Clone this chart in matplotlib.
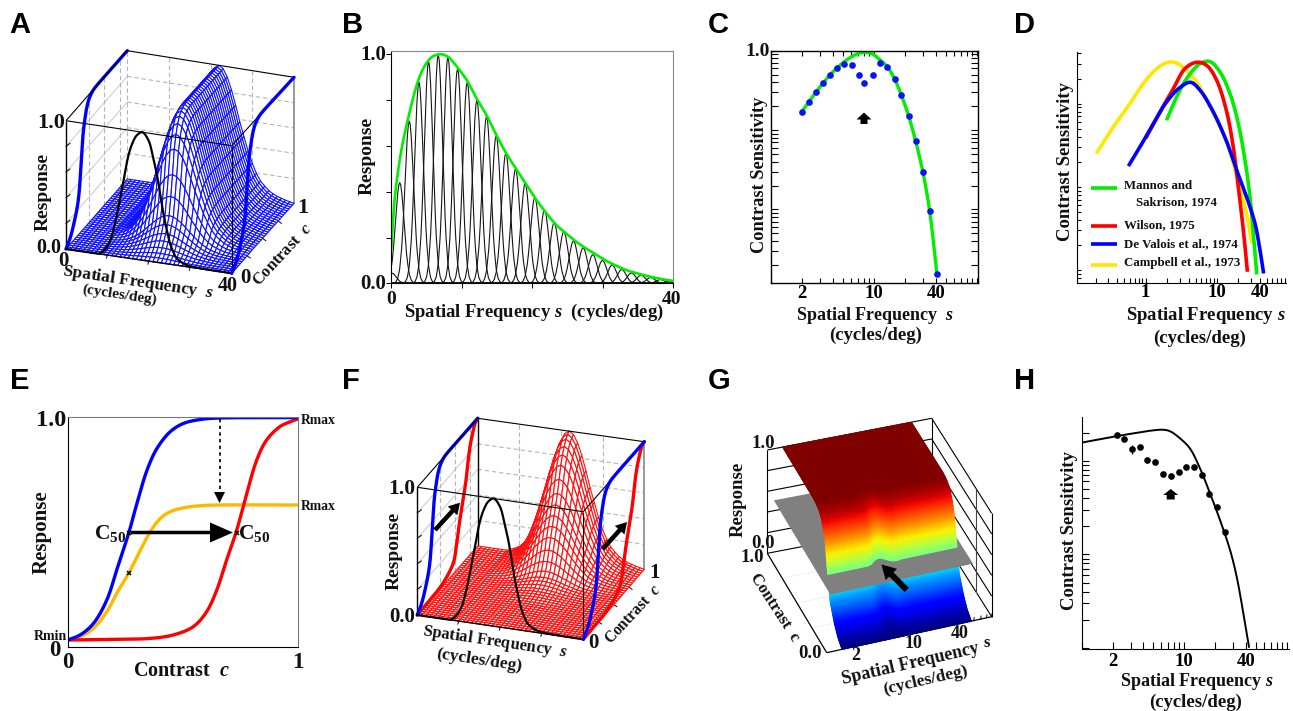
import numpy as np
import matplotlib
matplotlib.use('Agg')
import matplotlib.pyplot as plt
from matplotlib.collections import PolyCollection
from matplotlib.patches import FancyArrow, Polygon
from matplotlib.ticker import LogLocator, NullFormatter

plt.rcParams['font.family'] = ['Liberation Serif', 'DejaVu Serif']
plt.rcParams['font.weight'] = 'bold'
plt.rcParams['mathtext.fontset'] = 'custom'
plt.rcParams['mathtext.rm'] = 'Liberation Serif:bold'
plt.rcParams['mathtext.it'] = 'Liberation Serif:italic:bold'

W, H = 1293, 711
GREEN = '#00ee00'

# ---- A, F : tuning and contrast response
resp_c = [0, .03, .07, .13, .2, .25, .28, .31, .34, .37, .4, .44, .48, 1]
resp_blue = [0, .02, .05, .13, .27, .55, .75, .85, .92, .96, .98, .995, 1, 1]
resp_c_red = [0, .2, .35, .49, .6, .65, .7, .76, .8, .87, .93, .96, 1]
resp_red = [0, .005, .01, .035, .09, .2, .35, .5, .6, .84, .95, .985, 1]
tuning = [0, 0, 0, 0, 0, 0, 0, 0, .014, .026, .044, .072, .114, .172, .249, .345, .458,
          .581, .707, .823, .917, .978, 1, .978, .917, .823, .707, .581, .47, .36, .27,
          .195, .14, .105, .075, .055, .04, .03, .02, .012, .005]
front_s = [0, 6.6, 8.2, 9.5, 10.6, 11.8, 13, 14, 15, 16, 17.1, 18.4, 19.9, 21, 21.9, 22.7,
           23.5, 24.3, 25.1, 25.9, 26.7, 29.1, 33, 40]
front_r = [0, 0, .005, .045, .108, .25, .445, .62, .793, .90, .97, 1, .945, .82, .695, .54,
           .39, .27, .164, .10, .055, .013, .003, 0]

# ---- B
env_s = [0, .38, 1.2, 2.55, 3.92, 5.29, 6.66, 8.03, 9.31, 10.7, 12.1, 13.5, 14.9, 16.3, 17.8,
         19.2, 20.6, 22.0, 23.4, 24.8, 26.2, 27.6, 29.1, 30.5, 31.9, 33.3, 34.8, 36.7, 38.6, 40]
env_r = [.153, .335, .54, .742, .895, .975, 1.0, .99, .946, .888, .808, .735, .648, .568, .495,
         .429, .364, .306, .255, .218, .182, .153, .124, .098, .077, .058, .044, .029, .017, .010]
chan_s = [.1, 1.2, 2.55, 3.92, 5.29, 6.66, 8.03, 9.4, 10.77, 12.14, 13.51, 14.88, 16.25, 17.62,
          18.99, 20.36, 21.73, 23.1, 24.47, 25.84, 27.21, 28.58, 29.95, 31.32, 32.69, 34.06,
          35.43, 36.8, 38.17, 39.54]
chan_peak = [.044, .44, .71, .88, .97, 1.0, .99, .94, .88, .80, .73, .645, .57, .50, .435, .375,
             .32, .265, .225, .185, .155, .125, .10, .08, .06, .045, .035, .025, .016, .01]
lobe_off = [-1.6, -1.4, -1.2, -1.0, -.8, -.7, -.6, -.5, -.4, -.3, -.2, -.1, 0, .1, .2, .3, .4, .5,
            .6, .7, .8, 1.0, 1.2, 1.4, 1.6]
lobe_val = [.002, .008, .029, .085, .206, .298, .411, .539, .674, .801, .906, .976, 1, .976, .906,
            .801, .674, .539, .411, .298, .206, .085, .029, .008, .002]

# ---- C
c_pts_s = [1.97, 2.31, 2.72, 3.18, 3.75, 4.39, 5.14, 6.06, 7.09, 8.05, 9.7, 11.5, 13.5, 15.9,
           18.5, 21.8, 25.5, 30, 34.9, 41.1]
c_pts_v = [.1686, .2254, .301, .391, .498, .61, .679, .666, .498, .391, .498, .706, .628, .4395,
           .276, .15, .0726, .0296, .00962, .00153]
c_line_s = [1.97, 2.72, 3.75, 4.39, 5.14, 6.06, 7.09, 8.17, 9.7, 11.5, 13.5, 15.9, 18.5, 21.8,
            25.5, 30, 34.9, 41.1]
c_line_v = [.1686, .301, .498, .61, .7266, .84, .925, .953, .908, .763, .628, .4395, .276, .15,
            .0726, .0296, .00962, .00153]

# ---- D
yel_s = [.21, .352, .603, .927, 1.43, 1.97, 2.31, 2.87, 3.76, 5.19, 7.16, 9.89, 13.7, 16.9, 21, 26, 30.6]
yel_v = [.263, .525, 1, 1.74, 2.63, 3.1, 3.16, 3.02, 2.47, 1.82, 1.1, .631, .347, .19, .1, .0479, .0219]
red_s = [1.03, 1.59, 2.44, 3.56, 5.19, 7.16, 9.89, 13.7, 16.9, 19.9, 23.4, 26.6]
red_v = [.398, .794, 1.51, 2.63, 3.13, 2.88, 1.91, .794, .302, .1, .0302, .01]
grn_s = [2.01, 2.72, 3.76, 5.78, 7.98, 11, 15.2, 19.9, 24.7, 29, 32.3, 36]
grn_v = [.661, 1.2, 2, 3.02, 3.19, 2.4, 1.32, .575, .209, .0759, .0275, .0093]
blu_s = [.59, .833, 1.28, 1.97, 3.03, 4.27, 5.78, 8.88, 13.7, 18.9, 26, 34.1, 40.1, 44.7]
blu_v = [.185, .302, .575, 1.05, 1.56, 1.8, 1.45, .794, .347, .158, .0759, .0363, .0174, .00955]

# ---- E
e_blue_c = [0, .054, .112, .17, .213, .265, .301, .345, .388, .446, .504, .577, .649, .997]
e_blue_r = [.029, .051, .101, .203, .333, .493, .623, .768, .862, .935, .971, .988, .994, .996]
e_or_c = [0, .054, .112, .17, .213, .265, .316, .359, .403, .446, .504, .577, .649, .997]
e_or_r = [.029, .043, .08, .152, .232, .319, .42, .5, .558, .587, .604, .613, .616, .616]
e_red_c = [0, .213, .358, .459, .546, .604, .648, .691, .735, .771, .822, .865, .923, .967, 1.0]
e_red_r = [.029, .032, .036, .051, .087, .152, .246, .377, .507, .638, .812, .899, .957, .978, .99]

# ---- G
g_freq = [1.56, 1.8, 2, 2.5, 3, 3.5, 4, 4.5, 5, 5.5, 6, 6.5, 7, 7.5, 8, 8.5, 9, 10, 11, 12, 14, 16,
          20, 25, 30, 35, 40, 47]
g_shift = [0, 0, 0, 0, 0, 0, 0, 0, .01, .03, .045, .05, .042, .025, .01, 0, -.005, -.005, 0, 0, 0,
           0, 0, 0, 0, 0, 0, 0]

# ---- H
h_line_s = [1.0, 1.52, 2.2, 3.21, 4.66, 6.29, 7.3, 9.14, 11.4, 14.3, 17.9, 22.4, 28.1, 32.6, 37.9, 43]
h_line_v = [1.56, 1.70, 1.83, 1.96, 2.09, 2.14, 2.06, 1.73, 1.35, .828, .448, .233, .111, .0578, .0234, .0103]
h_pts_s = [2.19, 2.6, 3.13, 3.67, 4.39, 5.25, 6.24, 7.41, 8.87, 10.5, 12.6, 14.9, 17.6, 21.1, 24.9]
h_pts_v = [1.86, 1.69, 1.32, 1.41, 1.02, .976, .715, .686, .757, .863, .863, .697, .437, .323, .172]
h_pts_e = [.05, .04, .15, .04, .03, .03, .03, .03, .03, .03, .03, .03, .02, .015, .01]

fig = plt.figure(figsize=(W / 100, H / 100), dpi=100)


def px_axes(x0, y0, x1, y1):
    ax = fig.add_axes([x0 / W, 1 - y1 / H, (x1 - x0) / W, (y1 - y0) / H])
    ax.patch.set_alpha(0)
    return ax


ov = fig.add_axes([0, 0, 1, 1], zorder=10)
ov.set_xlim(0, W)
ov.set_ylim(H, 0)
ov.axis('off')


def smooth(x, y, logs=False, n=10):
    """round a polyline through the read points (hermite between them)"""
    x, y = np.asarray(x, float), np.asarray(y, float)
    if logs:
        x, y = np.log10(x), np.log10(y)
    t = np.r_[0, np.cumsum(np.hypot(np.diff(x), np.diff(y)) ** .5)]
    dx, dy = np.gradient(x, t), np.gradient(y, t)
    xs, ys = [], []
    for i in range(len(x) - 1):
        h = t[i + 1] - t[i]
        u = np.linspace(0, 1, n, endpoint=False)[:, None]
        h00, h10, h01, h11 = 2*u**3 - 3*u**2 + 1, u**3 - 2*u**2 + u, -2*u**3 + 3*u**2, u**3 - u**2
        xs.append((h00 * x[i] + h10 * h * dx[i] + h01 * x[i + 1] + h11 * h * dx[i + 1]).ravel())
        ys.append((h00 * y[i] + h10 * h * dy[i] + h01 * y[i + 1] + h11 * h * dy[i + 1]).ravel())
    xs, ys = np.r_[np.concatenate(xs), x[-1]], np.r_[np.concatenate(ys), y[-1]]
    if logs:
        return 10 ** xs, 10 ** ys
    return xs, ys


def txt(x, y, s, size=11, rot=0, ha='center', va='center', **kw):
    ov.text(x, y, s, fontsize=size, rotation=rot, ha=ha, va=va, rotation_mode='anchor',
            fontweight='bold', color='#111111', zorder=30, **kw)


def block_arrow(x0, y0, x1, y1, w=6, hw=15, hl=10, zorder=25):
    ov.add_patch(FancyArrow(x0, y0, x1 - x0, y1 - y0, width=w, head_width=hw, head_length=hl,
                            length_includes_head=True, color='k', lw=0, zorder=zorder))


def make_box(fl, fr, br, bl, tfl, tfr, tbr, tbl):
    base = np.array([fl, fr, br, bl], float)
    top = np.array([tfl, tfr, tbr, tbl], float)

    def proj(s, c, r):
        s, c, r = np.broadcast_arrays(np.asarray(s, float), np.asarray(c, float), np.asarray(r, float))
        w = np.stack([(1 - s) * (1 - c), s * (1 - c), s * c, (1 - s) * c], -1)
        pts = w @ base + (r[..., None]) * (w @ top - w @ base)
        return pts[..., 0], pts[..., 1]
    return proj


def seg(proj, a, b, **kw):
    x, y = proj([a[0], b[0]], [a[1], b[1]], [a[2], b[2]])
    ov.plot(x, y, solid_capstyle='butt', **kw)


def panel3d(proj, color, curves, c_resp, r_resp, back_left):
    """box with wire surface, as panels A and F"""
    levels = [.2, .4, .6, .8]
    grid = dict(color='#b5b5b5', lw=.8, ls=(0, (4, 2.5)), zorder=1)
    for lv in levels:
        seg(proj, (0, 1, lv), (1, 1, lv), **grid)
        seg(proj, (0, 0, lv), (0, 1, lv), color='#cfcfcf', lw=.8, zorder=1)
    for f in [.125, .375, .625]:
        seg(proj, (0, 1 - f, 0), (0, 1 - f, 1), **grid)
    for f in [.25, .5, .75]:
        seg(proj, (f, 1, 0), (f, 1, 1), **grid)
    seg(proj, (0, 0, 0), (0, 0, 1), color='k', lw=1.0, zorder=2)
    seg(proj, (1, 1, 0), (1, 1, 1), color='#888888', lw=1.2, zorder=1)
    if back_left:
        seg(proj, (0, 1, 0), (0, 1, 1), color='k', lw=1.0, zorder=1)
    else:
        seg(proj, (0, 1, 0), (0, 1, 1), **grid)
    for lv in levels:
        x, y = proj([0], [0], [lv])
        ov.plot([x[0], x[0] + 4], [y[0], y[0] - 3], color='k', lw=.7, zorder=2)

    s_grid = np.arange(41) / 40
    c_grid = np.linspace(0, 1, 37)
    surf = np.outer(tuning, np.interp(c_grid, c_resp, r_resp))
    X, Y = proj(s_grid[:, None], c_grid[None, :], surf)
    quads = []
    for i in range(40):
        for j in range(35, -1, -1):
            quads.append([(X[i, j], Y[i, j]), (X[i + 1, j], Y[i + 1, j]),
                          (X[i + 1, j + 1], Y[i + 1, j + 1]), (X[i, j + 1], Y[i, j + 1])])
    ov.add_collection(PolyCollection(quads, facecolors='white', edgecolors=color, linewidths=.8, zorder=4))

    for cc, rr, col in curves:
        x, y = proj(0 * np.asarray(cc), cc, rr)
        ov.plot(*smooth(x, y), color=col, lw=2.4, zorder=5, solid_capstyle='round')
        x, y = proj(0 * np.asarray(cc) + 1, cc, rr)
        ov.plot(*smooth(x, y), color=col, lw=2.4, zorder=8, solid_capstyle='round')
    x, y = proj(np.asarray(front_s) / 40, 0 * np.asarray(front_s), front_r)
    ov.plot(*smooth(x, y), color='k', lw=1.6, zorder=7)

    for a, b in [((0, 0, 1), (1, 0, 1)), ((1, 0, 1), (1, 1, 1)), ((1, 1, 1), (0, 1, 1)), ((0, 1, 1), (0, 0, 1)),
                 ((1, 0, 0), (1, 0, 1))]:
        seg(proj, a, b, color='k', lw=.8, zorder=6)
    seg(proj, (0, 0, 0), (1, 0, 0), color='k', lw=1.0, zorder=6)
    for f in [.25, .5, .75]:
        x, y = proj([f], [0], [0])
        ov.plot([x[0], x[0] - 1], [y[0], y[0] + 3], color='k', lw=.7, zorder=2)
    for f in [.25, .5, .75]:
        x, y = proj([1], [f], [0])
        ov.plot([x[0], x[0] + 3], [y[0], y[0] + 2], color='k', lw=.7, zorder=2)


# ---- A
proj_a = make_box((66, 249), (231.7, 273.3), (294, 204), (127.3, 179),
                  (66, 120.7), (231.7, 145.7), (294, 77.3), (127.3, 50.7))
panel3d(proj_a, '#1010ff', [(resp_c, resp_blue, '#0000ff')], resp_c, resp_blue, False)
txt(51, 123, '1.0', 16)
txt(49, 248, '0.0', 14.5)
txt(63, 261, '0', 15)
txt(228, 286, '40', 14.5)
txt(245, 278, '0', 15)
txt(303, 208, '1', 16)
txt(43, 192, 'Response', 14, rot=90)
txt(138, 282, 'Spatial Frequency  $s$', 12.5, rot=-8.5)
txt(120, 295, '(cycles/deg)', 11, rot=-8.5)
txt(283, 255, 'Contrast  $c$', 11.8, rot=47)

# ---- B
ax = px_axes(391.3, 51, 673.3, 283.3)
grid_s = np.linspace(0, 40, 1200)
for cs, pk in zip(chan_s, chan_peak):
    ax.plot(grid_s, pk * np.interp((grid_s - cs) / 1.37, lobe_off, lobe_val), color='#151515', lw=.8)
ax.plot(*smooth(env_s, env_r), color=GREEN, lw=1.9)
ax.set_xlim(0, 40)
ax.set_ylim(0, 1.015)
ax.set_xticks([0, 10, 20, 30, 40])
ax.set_xticklabels(['', '', '', '', ''])
ax.set_yticks([0, .2, .4, .6, .8, 1])
ax.set_yticklabels(['', '', '', '', '', ''])
ax.tick_params(length=3.5, width=.7, pad=2)
for k in ['top', 'right']:
    ax.spines[k].set_color('#888888')
txt(373, 55, '1.0', 15)
txt(373, 284, '0.0', 15)
txt(391, 300, '0', 14)
txt(672, 299, '40', 14)
txt(534, 312, 'Spatial Frequency $s$  (cycles/deg)', 13.4)
txt(367, 156, 'Response', 14, rot=90)


def log_axes(ax, xticks, xlabels, ylim, xlim, ylen, xlen, pad, both=False):
    ax.set_xscale('log')
    ax.set_yscale('log')
    ax.set_xlim(*xlim)
    ax.set_ylim(*ylim)
    ax.set_xticks(xticks)
    ax.set_xticklabels(xlabels, fontsize=13.5)
    ax.xaxis.set_minor_locator(LogLocator(base=10, subs=range(1, 10), numticks=20))
    ax.xaxis.set_minor_formatter(NullFormatter())
    ax.yaxis.set_major_locator(LogLocator(base=10, numticks=20))
    ax.yaxis.set_major_formatter(NullFormatter())
    ax.yaxis.set_minor_locator(LogLocator(base=10, subs=range(1, 10), numticks=20))
    ax.yaxis.set_minor_formatter(NullFormatter())
    ax.tick_params(axis='y', which='both', direction='in', length=ylen, width=.8, left=True, right=both)
    ax.tick_params(axis='x', which='both', direction='in', length=xlen, width=.8, bottom=True, top=both, pad=pad)
    if not both:
        ax.spines['top'].set_visible(False)
        ax.spines['right'].set_visible(False)


# ---- C
ax = px_axes(771.3, 50.7, 978.3, 283.3)
ax.plot(*smooth(c_line_s, c_line_v, logs=True), color=GREEN, lw=2.4)
ax.plot(c_pts_s, c_pts_v, 'o', color='#0a14f0', ms=4.8, mew=0)
log_axes(ax, [2, 10, 40], ['2', '10', '40'], (10 ** -2.93, 1), (1, 104), 5, 3.5, 1.5, both=True)
for k in ax.spines.values():
    k.set_linewidth(1)
txt(758, 52, '1.0', 14)
block_arrow(864, 124, 864, 112.5, w=7, hw=15, hl=7)
txt(875, 315, 'Spatial Frequency  $s$', 13)
txt(876, 335, '(cycles/deg)', 13.5)
txt(759, 175, 'Contrast Sensitivity', 13.2, rot=90)

# ---- D
ax = px_axes(1077.3, 51.7, 1285.7, 283.3)
ax.plot(*smooth(yel_s, yel_v, logs=True), color='#ffe800', lw=2.6)
ax.plot(*smooth(grn_s, grn_v, logs=True), color=GREEN, lw=2.6)
ax.plot(*smooth(red_s, red_v, logs=True), color='#ff0000', lw=2.6)
ax.plot(*smooth(blu_s, blu_v, logs=True), color='#0000ff', lw=2.6)
log_axes(ax, [1, 10, 40], ['1', '10', '40'], (10 ** -2.16, 4.2), (.11, 92), 3, 3.5, .5)
for col, yy in [(GREEN, 187.7), ('#ff0000', 225.7), ('#0000ff', 244.3), ('#ffe800', 265)]:
    ov.plot([1090.7, 1116.7], [yy, yy], color=col, lw=2.6, solid_capstyle='butt', zorder=20)
txt(1124, 186, 'Mannos and', 9.3, ha='left')
txt(1136.5, 202.5, 'Sakrison, 1974', 9.3, ha='left')
txt(1124, 225, 'Wilson, 1975', 9.3, ha='left')
txt(1124, 244, 'De Valois et al., 1974', 9.3, ha='left')
txt(1124, 263, 'Campbell et al., 1973', 9.3, ha='left')
txt(1206, 316, 'Spatial Frequency $s$', 13.5)
txt(1200, 338, '(cycles/deg)', 13.5)
txt(1065, 162, 'Contrast Sensitivity', 13.5, rot=90)

# ---- E
ax = px_axes(67.7, 416.7, 297.7, 646.7)
ax.plot(*smooth(e_or_c, e_or_r), color='#ffb800', lw=2.4)
ax.plot(*smooth(e_red_c, e_red_r), color='#ff0000', lw=2.4)
ax.plot(*smooth(e_blue_c, e_blue_r), color='#0000ff', lw=2.4)
ax.plot([.265, .735, .265], [.495, .495, .319], 'x', color='k', ms=3.5, mew=1.1)
ax.set_xlim(0, 1)
ax.set_ylim(0, 1)
ax.set_xticks([0, 1])
ax.set_yticks([0, 1])
ax.set_xticklabels([])
ax.set_yticklabels([])
ax.tick_params(length=0)
for k in ['top', 'right']:
    ax.spines[k].set_color('#777777')
txt(67.7, 663, '0', 16.5)
txt(298, 663, '1', 16.5)
txt(55, 650, '0', 16.5)
txt(51, 420, '1.0', 17.5)
txt(34, 636, 'Rmin', 10, ha='left')
txt(300.5, 421, 'Rmax', 9.8, ha='left')
txt(300.5, 507, 'Rmax', 9.8, ha='left')
txt(181, 671, 'Contrast  $c$', 14.5)
txt(42, 532, 'Response', 15, rot=90)
txt(110, 533, 'C$_{\\mathrm{50}}$', 15.5)
txt(254.5, 534, 'C$_{\\mathrm{50}}$', 15.5)
block_arrow(131, 532.5, 233, 532.5, w=3.5, hw=20, hl=23)
ov.plot([219.5, 219.5], [419, 495], color='k', lw=1.2, ls=(0, (2, 2)), zorder=25)
ov.add_patch(Polygon([(214, 492), (225, 492), (219.5, 503)], color='k', lw=0, zorder=25))

# ---- F
proj_f = make_box((417.3, 615), (583.3, 639.3), (644.3, 570), (477.7, 546),
                  (417.3, 487.3), (583.3, 511.7), (644.3, 441.7), (477.7, 418.3))
panel3d(proj_f, '#ff1010',
        [(resp_c_red, resp_red, '#ff0000'), (resp_c, resp_blue, '#0000ff')],
        resp_c_red, resp_red, True)
block_arrow(435, 530, 460, 502.7, w=4.5, hw=13, hl=11)
block_arrow(602.7, 549, 627, 522, w=4.5, hw=13, hl=11)
txt(402, 489, '1.0', 15.5)
txt(402, 617, '0.0', 15)
txt(593, 643, '0', 15)
txt(655, 573, '1', 15)
txt(394, 551, 'Response', 14, rot=90)
txt(495, 642, 'Spatial Frequency  $s$', 12, rot=-8.5)
txt(479, 660, '(cycles/deg)', 12.5, rot=-8.5)
txt(633, 614, 'Contrast  $c$', 11.2, rot=47)

# ---- G
proj_g = make_box((826.7, 652.7), (991.7, 616.7), (931.7, 521.7), (767.3, 553.3),
                  (826.7, 549.3), (991.7, 513.3), (931.7, 418.3), (767.3, 450))


def g_frac(s):
    return .15 + .53 * np.log10(np.asarray(s, float) / 2)


for lv in [0, .2, .4, .6, .8, 1]:
    seg(proj_g, (0, 1, lv), (1, 1, lv), color='k', lw=.8, zorder=1)
    seg(proj_g, (1, 1, lv), (1, 0, lv), color='k', lw=.8, zorder=1)
seg(proj_g, (0, 1, 0), (0, 1, 1), color='k', lw=.8, zorder=1)
seg(proj_g, (1, 1, 0), (1, 1, 1), color='k', lw=.8, zorder=1)
seg(proj_g, (1, 0, 0), (1, 0, 1), color='k', lw=.8, zorder=1)
seg(proj_g, (1, .26, 0), (1, .26, 1), color='#444444', lw=.8, zorder=1)
for f in [.25, .5, .75]:
    seg(proj_g, (0, f, 0), (1, f, 0), color='#d8d8d8', lw=.6, ls=':', zorder=1)
    seg(proj_g, (f, 0, 0), (f, 1, 0), color='#d8d8d8', lw=.6, ls=':', zorder=1)
seg(proj_g, (0, 0, 0), (0, 1, 0), color='k', lw=.9, zorder=2)
seg(proj_g, (0, 0, 0), (1, 0, 0), color='k', lw=.9, zorder=2)
for s in [2, 3, 4, 5, 6, 7, 8, 9, 10, 20, 30, 40, 50, 60, 70, 80]:
    x, y = proj_g([g_frac(s)], [0], [0])
    ov.plot([x[0], x[0] + .5], [y[0], y[0] - 3], color='k', lw=.7, zorder=2)

fr = g_frac(g_freq)
sh = np.asarray(g_shift)
u = np.linspace(0, 1, 60)
C50 = .24
# part below the grey plane
cc = np.outer(C50 + sh, u)
rr = np.interp(cc - sh[:, None], resp_c, resp_blue)
X, Y = proj_g(fr[:, None], cc, rr)
ov.pcolormesh(X, Y, rr, cmap='jet', vmin=0, vmax=1, shading='gouraud', zorder=3)
# grey plane
gx, gy = proj_g([.04, .905, .905, .04], [1, 1, .05, .05], [.5, .5, .5, .5])
ov.add_patch(Polygon(np.c_[gx, gy], color='#808080', lw=0, zorder=4))
# part above it
cc = (C50 + sh)[:, None] + np.outer(1 - C50 - sh, u)
rr = np.interp(cc - sh[:, None], resp_c, resp_blue)
X, Y = proj_g(fr[:, None], cc, rr)
ov.pcolormesh(X, Y, rr, cmap='jet', vmin=0, vmax=1, shading='gouraud', zorder=5)
block_arrow(906.7, 590, 881.5, 564.5, w=6, hw=16, hl=14)
txt(763, 443, '1.0', 13.5)
txt(763, 544, '0.0', 13.5)
txt(752, 557, '1.0', 13.5)
txt(810, 654, '0.0', 13.5)
txt(738, 499, 'Response', 13.5, rot=90)
txt(775, 608, 'Contrast  c', 12, rot=-57)
txt(856, 655, '2', 13)
txt(913, 643, '10', 13)
txt(960, 633, '40', 13)
txt(910, 664, 'Spatial Frequency', 13, rot=13)
txt(987, 643, 's', 12)
txt(926, 680, '(cycles/deg)', 12.5, rot=13)

# ---- H
ax = px_axes(1081.7, 416.7, 1288.7, 649.3)
ax.plot(*smooth(h_line_s, h_line_v, logs=True), color='k', lw=1.4)
ax.errorbar(h_pts_s, h_pts_v, yerr=h_pts_e, fmt='o', color='k', ms=4.8, mew=0, elinewidth=.9, capsize=1.5, capthick=.8)
log_axes(ax, [2, 10, 40], ['2', '10', '40'], (10 ** -2.014, 2.95), (1, 105), 5, 5, 3)
block_arrow(1170.7, 499.5, 1170.7, 489, w=8, hw=15, hl=6)
txt(1197, 681, 'Spatial Frequency $s$', 13)
txt(1196, 702, '(cycles/deg)', 13.5)
txt(1069, 531, 'Contrast Sensitivity', 13.5, rot=90)

# ---- letters
for (x, y, s) in [(9, 25, 'A'), (342, 25, 'B'), (708, 25, 'C'), (1014, 25, 'D'),
                  (10, 381, 'E'), (342, 381, 'F'), (708, 381, 'G'), (1014, 381, 'H')]:
    ov.text(x, y, s, fontsize=21, fontweight='bold', family='Liberation Sans', ha='left', va='center', color='k')

fig.savefig('out.png', dpi=100)
